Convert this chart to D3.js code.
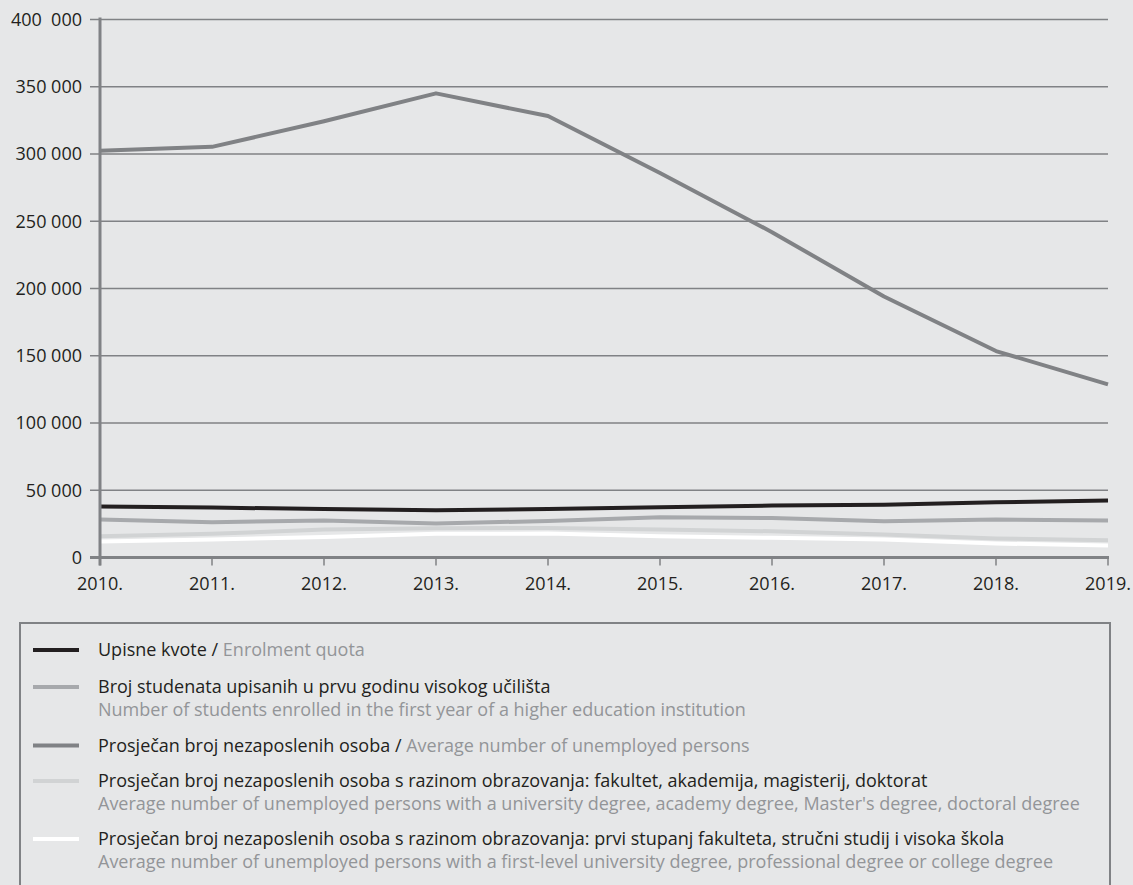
<!DOCTYPE html>
<html>
<head>
<meta charset="utf-8">
<script src="https://cdn.jsdelivr.net/npm/d3@7"></script>
<style>
body{margin:0;background:#e6e7e8;}
text{font-family:"Open Sans",sans-serif;white-space:pre;}
</style>
</head>
<body>
<div id="chart"></div>
<script>
var years=[2010,2011,2012,2013,2014,2015,2016,2017,2018,2019];
var quota=[38000,37100,36100,35100,36100,37300,38600,39300,41000,42300];
var enrolled=[28200,26200,27500,25200,27200,29900,29400,26900,28200,27500];
var unemployed=[302400,305300,324300,345100,328200,285900,241900,194000,153500,128700];
var uniDegree=[15800,17600,20800,21700,22000,20800,19500,17100,14100,12900];
var firstLevel=[11900,13400,15300,17600,17800,15800,14600,13400,10400,8900];
var yTicks=[0,50000,100000,150000,200000,250000,300000,350000,400000];
var yTickLabels=["0","50 000","100 000","150 000","200 000","250 000","300 000","350 000","400  000"];

var seriesNames=["quota","enrolled","unemployed","uniDegree","firstLevel"];
var seriesVals=[quota,enrolled,unemployed,uniDegree,firstLevel];
var seriesColors=["#231f20","#a7a9ac","#808285","#d1d3d4","#ffffff"];
// draw order: light ones under, as in the print
var drawOrder=[4,3,1,0,2];
var legendHr=["Upisne kvote / ","Broj studenata upisanih u prvu godinu visokog učilišta","Prosječan broj nezaposlenih osoba / ","Prosječan broj nezaposlenih osoba s razinom obrazovanja: fakultet, akademija, magisterij, doktorat","Prosječan broj nezaposlenih osoba s razinom obrazovanja: prvi stupanj fakulteta, stručni studij i visoka škola"];
var legendEn=["Enrolment quota","Number of students enrolled in the first year of a higher education institution","Average number of unemployed persons","Average number of unemployed persons with a university degree, academy degree, Master's degree, doctoral degree","Average number of unemployed persons with a first-level university degree, professional degree or college degree"];
var legendInline=[true,false,true,false,false];

var W=1133,H=885, pLeft=100,pRight=1108,pTop=19.5,pBottom=557.5;
var axisCol="#808285", fs=18;

var svg=d3.select("#chart").append("svg").attr("width",W).attr("height",H);
svg.append("rect").attr("width",W).attr("height",H).attr("fill","#e6e7e8");

var x=d3.scaleLinear().domain([2010,2019]).range([pLeft,pRight]);
var y=d3.scaleLinear().domain([0,400000]).range([pBottom,pTop]);

// gridlines
svg.append("g").selectAll("line").data(yTicks.slice(1)).enter().append("line")
	.attr("x1",pLeft-10).attr("x2",pRight).attr("y1",function(d){return y(d);}).attr("y2",function(d){return y(d);})
	.attr("stroke",axisCol).attr("stroke-width",1.3);

// y labels
svg.append("g").selectAll("text").data(yTicks).enter().append("text")
	.attr("x",82).attr("y",function(d){return y(d);}).attr("dy","0.35em")
	.attr("text-anchor","end").attr("font-size",fs).attr("fill","#231f20")
	.text(function(d,i){return yTickLabels[i];});

// lines
var line=d3.line().x(function(d,i){return x(years[i]);}).y(function(d){return y(d);});
svg.append("g").selectAll("path").data(drawOrder).enter().append("path")
	.attr("d",function(k){return line(seriesVals[k]);})
	.attr("fill","none").attr("stroke",function(k){return seriesColors[k];})
	.attr("stroke-width",4).attr("stroke-linejoin","round");

// axes
svg.append("line").attr("x1",pLeft).attr("x2",pLeft).attr("y1",pTop-2).attr("y2",pBottom+8)
	.attr("stroke",axisCol).attr("stroke-width",3);
svg.append("line").attr("x1",pLeft-10).attr("x2",pRight+1).attr("y1",pBottom).attr("y2",pBottom)
	.attr("stroke",axisCol).attr("stroke-width",3);
svg.append("g").selectAll("line").data(years).enter().append("line")
	.attr("x1",function(d){return x(d);}).attr("x2",function(d){return x(d);})
	.attr("y1",pBottom).attr("y2",pBottom+8).attr("stroke",axisCol).attr("stroke-width",1.5);
svg.append("g").selectAll("text").data(years).enter().append("text")
	.attr("x",function(d){return x(d);}).attr("y",590)
	.attr("text-anchor","middle").attr("font-size",fs).attr("fill","#231f20")
	.text(function(d){return d+".";});

// legend
svg.append("rect").attr("x",20).attr("y",623).attr("width",1090).attr("height",300)
	.attr("fill","none").attr("stroke",axisCol).attr("stroke-width",2);
var rowY=[650,687,745.5,781,839];
var lg=svg.append("g").selectAll("g").data(seriesNames).enter().append("g");
lg.append("line").attr("x1",33).attr("x2",79)
	.attr("y1",function(d,i){return rowY[i];}).attr("y2",function(d,i){return rowY[i];})
	.attr("stroke",function(d,i){return seriesColors[i];}).attr("stroke-width",4);
var t1=lg.append("text").attr("x",98).attr("y",function(d,i){return rowY[i];}).attr("dy","0.35em")
	.attr("font-size",fs).attr("fill","#231f20")
	.text(function(d,i){return legendHr[i];});
t1.filter(function(d,i){return legendInline[i];}).append("tspan").attr("fill","#939598")
	.text(function(d){return legendEn[seriesNames.indexOf(d)];});
lg.filter(function(d,i){return !legendInline[i];}).append("text").attr("x",98)
	.attr("y",function(d){return rowY[seriesNames.indexOf(d)]+23;}).attr("dy","0.35em")
	.attr("font-size",fs).attr("fill","#939598")
	.text(function(d){return legendEn[seriesNames.indexOf(d)];});
</script>
</body>
</html>
